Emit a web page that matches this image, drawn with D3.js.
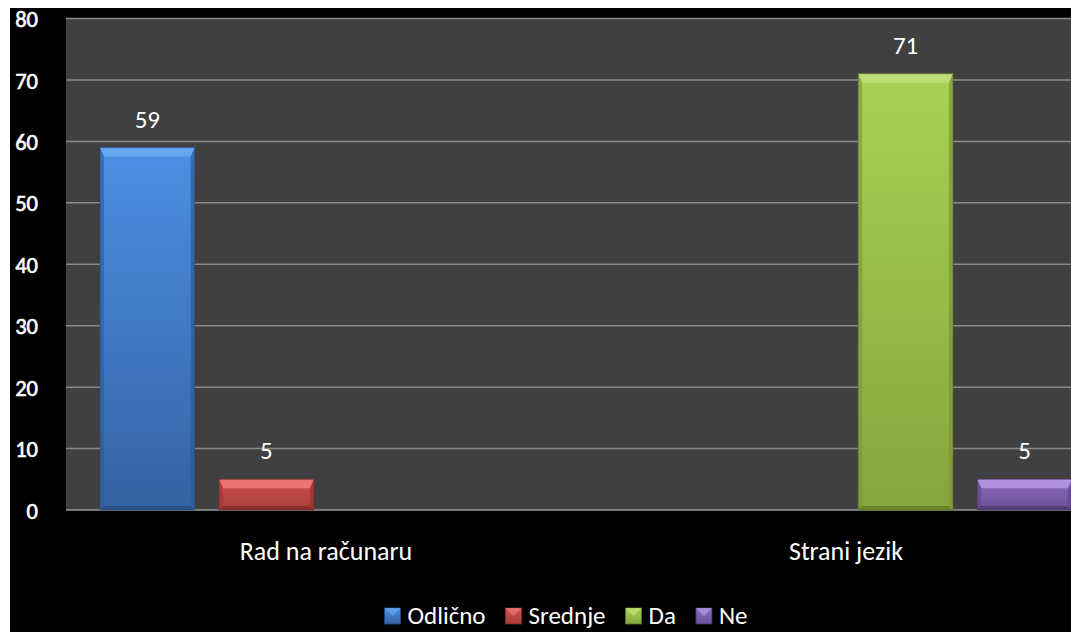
<!DOCTYPE html>
<html>
<head>
<meta charset="utf-8">
<script src="https://cdn.jsdelivr.net/npm/d3@7"></script>
<style>
  html, body { margin: 0; padding: 0; background: #ffffff; overflow: hidden; }
  svg { display: block; }
</style>
</head>
<body>
<svg id="chart" width="1071" height="632"></svg>
<script>
// ---- data ----
const categories = ["Rad na računaru", "Strani jezik"];
const seriesNames = ["Odlično", "Srednje", "Da", "Ne"];
const seriesValues = [
  [59, null],   // Odlično
  [5, null],    // Srednje
  [null, 71],   // Da
  [null, 5]     // Ne
];
const yTicks = [0, 10, 20, 30, 40, 50, 60, 70, 80];

// ---- style ----
const palette = [
  { top: "#4c90e4", bottom: "#3562a3", bevel: "#6aaaf2", side: "#2f5a96", dark: "#27497a" },
  { top: "#d4524f", bottom: "#a63d3a", bevel: "#ee7b77", side: "#963532", dark: "#7a2a28" },
  { top: "#a9d156", bottom: "#86a53c", bevel: "#c2e27a", side: "#7a9634", dark: "#5f7727" },
  { top: "#8c6cc0", bottom: "#6c4f96", bevel: "#b698e6", side: "#614688", dark: "#4c366b" }
];
const FONT = "Carlito, Calibri, Lato, 'Open Sans', sans-serif";

const svg = d3.select("#chart");
const W = 1071, H = 632;

// chart background (black), white strip at top/left
svg.append("rect").attr("x", 10).attr("y", 8).attr("width", W - 10).attr("height", H - 8).attr("fill", "#000");

const plot = { left: 66, right: 1106, top: 18.5, bottom: 510 };

const y = d3.scaleLinear().domain([0, 80]).range([plot.bottom, plot.top]);
const x0 = d3.scaleBand().domain(categories).range([plot.left, plot.right]).padding(0);
const x1 = d3.scaleBand().domain(seriesNames).range([34, 486]).paddingInner(0.205).paddingOuter(0);

// plot area
svg.append("rect")
  .attr("x", plot.left).attr("y", plot.top)
  .attr("width", plot.right - plot.left).attr("height", plot.bottom - plot.top)
  .attr("fill", "#404040");

// gridlines
svg.append("g").selectAll("line").data(yTicks).join("line")
  .attr("x1", plot.left).attr("x2", plot.right)
  .attr("y1", d => y(d)).attr("y2", d => y(d))
  .attr("stroke", d => d === 0 ? "#9a9a9a" : "#8a8a8a")
  .attr("stroke-width", 1.5);

// y axis labels
const yAxis = d3.axisLeft(y).tickValues(yTicks).tickSize(0).tickPadding(0);
const yg = svg.append("g").attr("transform", `translate(38,0)`).call(yAxis);
yg.select(".domain").remove();
yg.selectAll("text")
  .attr("fill", "#ffffff").attr("font-family", FONT).attr("font-size", 22.5).attr("font-weight", 400)
  .attr("stroke", "#ffffff").attr("stroke-width", 0.6)
  .attr("dy", "0.36em");

// gradients
const defs = svg.append("defs");
palette.forEach((p, i) => {
  const g = defs.append("linearGradient").attr("id", "grad" + i)
    .attr("x1", 0).attr("y1", 0).attr("x2", 0).attr("y2", 1);
  g.append("stop").attr("offset", "0%").attr("stop-color", p.top);
  g.append("stop").attr("offset", "100%").attr("stop-color", p.bottom);
});

// bars
const barData = [];
seriesNames.forEach((s, si) => {
  categories.forEach((c, ci) => {
    const v = seriesValues[si][ci];
    if (v != null) barData.push({ s, si, c, v });
  });
});

const bars = svg.append("g").selectAll("g").data(barData).join("g");
bars.each(function(d) {
  const g = d3.select(this);
  const bx = x0(d.c) + x1(d.s);
  const bw = x1.bandwidth();
  const by = y(d.v);
  const bh = y(0) - by;
  const p = palette[d.si];
  const t = 9, sd = 4, bt = 4;
  g.append("rect").attr("x", bx).attr("y", by).attr("width", bw).attr("height", bh)
    .attr("fill", `url(#grad${d.si})`);
  // top bevel
  g.append("path").attr("d", `M${bx},${by}L${bx + bw},${by}L${bx + bw - sd},${by + t}L${bx + sd},${by + t}Z`)
    .attr("fill", p.bevel).attr("opacity", 0.85);
  // left bevel
  g.append("path").attr("d", `M${bx},${by}L${bx + sd},${by + t}L${bx + sd},${by + bh - bt}L${bx},${by + bh}Z`)
    .attr("fill", p.side).attr("opacity", 0.6);
  // right bevel
  g.append("path").attr("d", `M${bx + bw},${by}L${bx + bw - sd},${by + t}L${bx + bw - sd},${by + bh - bt}L${bx + bw},${by + bh}Z`)
    .attr("fill", p.side).attr("opacity", 0.7);
  // bottom bevel
  g.append("path").attr("d", `M${bx},${by + bh}L${bx + sd},${by + bh - bt}L${bx + bw - sd},${by + bh - bt}L${bx + bw},${by + bh}Z`)
    .attr("fill", p.dark).attr("opacity", 0.7);
  g.append("rect").attr("x", bx).attr("y", by).attr("width", bw).attr("height", bh)
    .attr("fill", "none").attr("stroke", p.dark).attr("stroke-width", 1).attr("opacity", 0.6);
  // data label
  g.append("text").attr("x", bx + bw / 2).attr("y", by - 20)
    .attr("text-anchor", "middle").attr("fill", "#ffffff")
    .attr("font-family", FONT).attr("font-size", 25)
    .text(d.v);
});

// category labels
svg.append("g").selectAll("text").data(categories).join("text")
  .attr("x", d => x0(d) + x0.bandwidth() / 2)
  .attr("y", 560)
  .attr("text-anchor", "middle").attr("fill", "#ffffff")
  .attr("font-family", FONT).attr("font-size", 26)
  .text(d => d);

// legend
const legend = svg.append("g");
const items = legend.selectAll("g").data(seriesNames).join("g");
items.append("rect").attr("width", 16).attr("height", 16).attr("y", -16)
  .attr("fill", (d, i) => `url(#grad${i})`)
  .attr("stroke", (d, i) => palette[i].dark).attr("stroke-width", 0.8);
items.append("path").attr("d", "M0,-16L16,-16L8,-8Z").attr("fill", (d, i) => palette[i].bevel).attr("opacity", 0.7);
items.append("text").attr("x", 23).attr("y", 0)
  .attr("fill", "#ffffff").attr("font-family", FONT).attr("font-size", 25)
  .text(d => d);
const widths = [];
items.each(function() { widths.push(this.getBBox().width); });
const gap = 20;
const total = d3.sum(widths) + gap * (widths.length - 1);
let start = 566 - total / 2;
items.attr("transform", (d, i) => {
  const tx = start;
  start += widths[i] + gap;
  return `translate(${tx},624)`;
});
</script>
</body>
</html>
